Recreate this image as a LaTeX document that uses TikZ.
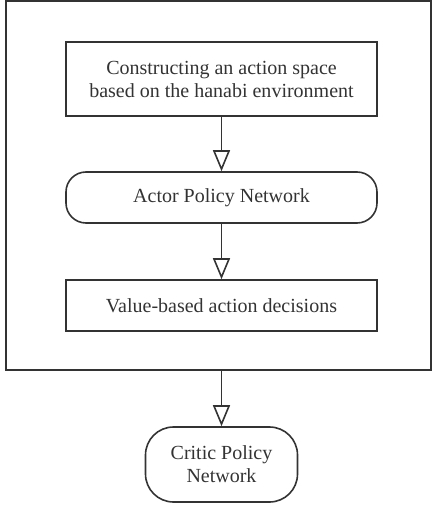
\documentclass[tikz,border=0pt]{standalone}
\usepackage{fontspec}
\setmainfont{Liberation Serif}
\usepackage{tikz}
\usetikzlibrary{arrows.meta}
\definecolor{ink}{gray}{0.2}
\tikzstyle{step box}=[draw=ink,line width=1.6pt,minimum width=311pt,align=center,text=ink,font=\fontsize{20}{23}\selectfont]
\tikzstyle{flow}=[draw=ink,line width=1.6pt,-{Triangle[open,width=17pt,length=21pt,line width=1.6pt]}]

\begin{document}
\begin{tikzpicture}[x=1pt,y=-1pt]
\useasboundingbox (0,0) rectangle (432,508);
% frame
\node[draw=ink,line width=1.6pt,minimum width=425pt,minimum height=369pt] (frame) at (218.5,185.5) {};
% boxes
\node[step box,minimum height=74pt] (space) at (221.5,79) {Constructing an action space\\based on the hanabi environment};
\node[step box,minimum height=51pt,rounded corners=20pt] (actor) at (221.5,197.5) {Actor Policy Network};
\node[step box,minimum height=51pt] (value) at (221.5,305.5) {Value-based action decisions};
\node[step box,minimum width=152pt,minimum height=75pt,rounded corners=28pt] (critic) at (221.5,464.5) {Critic Policy\\Network};

% arrows
\draw[flow] (space) -- (actor);
\draw[flow] (actor) -- (value);
\draw[flow] (critic.north |- frame.south) -- (critic);
\end{tikzpicture}
\end{document}
